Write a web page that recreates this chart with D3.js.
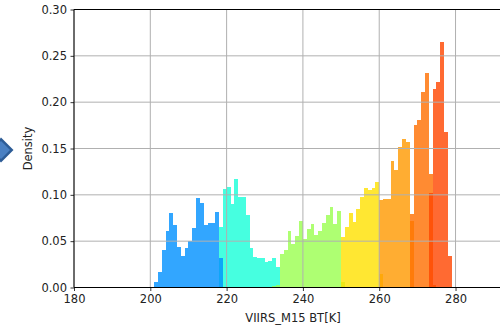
<!DOCTYPE html>
<html>
<head>
<meta charset="utf-8">
<script src="https://cdn.jsdelivr.net/npm/d3@7"></script>
<style>
  html, body { margin: 0; padding: 0; background: #fff; }
  svg { display: block; }
  text { font-family: "DejaVu Sans", sans-serif; }
</style>
</head>
<body>
<svg id="chart" width="500" height="326"></svg>
<script>
// ---- data ----
const groupNames = ["<219K", "219-234K", "234-250K", "250-260K", "260-268K", "268-273K", ">273K"];
const groupColors = ["#0090ff", "#18ffd9", "#9bff50", "#ffe200", "#ff9900", "#ff6f00", "#ff4600"];
const binStarts = [201, 218.1, 232, 250, 260, 268, 273];
const binWidths = [1.0, 0.99, 1.0, 1.0, 1.0, 1.0, 1.0];
const blueDensity = [0.0062, 0.0165, 0.040, 0.0615, 0.0806, 0.067, 0.044, 0.0345, 0.043, 0.0507, 0.0637, 0.0968, 0.0914, 0.067, 0.0698, 0.0698, 0.0813, 0.032];
const cyanDensity = [0.0655, 0.1065, 0.1086, 0.090, 0.117, 0.0975, 0.0975, 0.078, 0.0428, 0.0327, 0.0313, 0.0313, 0.0273, 0.0284, 0.032, 0.022];
const greenDensity = [0.002, 0.003, 0.0364, 0.041, 0.0608, 0.047, 0.0554, 0.0723, 0.0518, 0.0633, 0.069, 0.057, 0.061, 0.0698, 0.0777, 0.0867, 0.069, 0.0824, 0.006];
const yellowDensity = [0.055, 0.0655, 0.080, 0.071, 0.0845, 0.098, 0.1078, 0.105, 0.107, 0.1142, 0.015];
const amberDensity = [0.094, 0.095, 0.096, 0.136, 0.127, 0.152, 0.160, 0.157, 0.0716];
const orangeDensity = [0.0795, 0.175, 0.181, 0.211, 0.232, 0.122, 0.003];
const redDensity = [0.102, 0.214, 0.222, 0.265, 0.168, 0.0345];
const xTicks = [180, 200, 220, 240, 260, 280];
const yTicks = [0.00, 0.05, 0.10, 0.15, 0.20, 0.25, 0.30];
const xLabel = "VIIRS_M15 BT[K]";
const yLabel = "Density";

const allDensity = [blueDensity, cyanDensity, greenDensity, yellowDensity, amberDensity, orangeDensity, redDensity];
const drawOrder = [1, 0, 2, 3, 4, 5, 6];

// ---- layout ----
const svg = d3.select("#chart");
const mLeft = 74, mRight = 512, mTop = 9.5, mBottom = 287.5;
const x = d3.scaleLinear().domain([180, 294.8]).range([mLeft, mRight]);
const y = d3.scaleLinear().domain([0, 0.30]).range([mBottom, mTop]);

// decorative arrow at left edge
const arrow = svg.append("g");
arrow.append("path").attr("d", "M-11,150 L1,137.5 L13.5,150 L1,162.5 Z").attr("fill", "#2d5c96");
arrow.append("path").attr("d", "M-8,150 L1,141 L10,150 L1,159 Z").attr("fill", "#4a80c2");

// bars
drawOrder.forEach(gi => {
  const g = svg.append("g").attr("opacity", 0.8);
  const s = binStarts[gi], w = binWidths[gi];
  g.selectAll("rect").data(allDensity[gi]).enter().append("rect")
    .attr("shape-rendering", "crispEdges")
    .attr("x", (d, i) => x(s + i * w))
    .attr("width", (d, i) => x(s + (i + 1) * w) - x(s + i * w))
    .attr("y", d => y(d))
    .attr("height", d => y(0) - y(d))
    .attr("fill", groupColors[gi]);
});

// grid
const grid = svg.append("g").attr("stroke", "#b0b0b0").attr("stroke-width", 1);
xTicks.forEach(t => grid.append("line").attr("x1", x(t)).attr("x2", x(t)).attr("y1", mTop).attr("y2", mBottom));
yTicks.forEach(t => grid.append("line").attr("x1", mLeft).attr("x2", 500).attr("y1", y(t)).attr("y2", y(t)));

// axes
const yAxis = svg.append("g").attr("transform", `translate(${mLeft},0)`)
  .call(d3.axisLeft(y).tickValues(yTicks).tickFormat(d3.format(".2f")).tickSize(3.5).tickPadding(3.5));
const xAxis = svg.append("g").attr("transform", `translate(0,${mBottom})`)
  .call(d3.axisBottom(x).tickValues(xTicks).tickFormat(d3.format("d")).tickSize(3.5).tickPadding(3.5));
[xAxis, yAxis].forEach(a => {
  a.select(".domain").remove();
  a.selectAll("line").attr("stroke", "#000").attr("stroke-width", 0.8);
  a.selectAll("text").attr("font-family", "DejaVu Sans, sans-serif").attr("font-size", 11.5).attr("fill", "#222");
});
// spines
svg.append("line").attr("x1", mLeft).attr("x2", mLeft).attr("y1", mTop).attr("y2", mBottom).attr("stroke", "#000").attr("stroke-width", 1);
svg.append("line").attr("x1", mLeft).attr("x2", 500).attr("y1", mBottom).attr("y2", mBottom).attr("stroke", "#000").attr("stroke-width", 1);
svg.append("line").attr("x1", mLeft).attr("x2", 500).attr("y1", mTop).attr("y2", mTop).attr("stroke", "#000").attr("stroke-width", 1);

// labels
svg.append("text").attr("x", (mLeft + mRight) / 2).attr("y", 321.5).attr("text-anchor", "middle")
  .attr("font-size", 11.5).attr("fill", "#222").text(xLabel);
svg.append("text").attr("transform", `translate(32,${(mTop + mBottom) / 2}) rotate(-90)`).attr("text-anchor", "middle")
  .attr("font-size", 11.5).attr("fill", "#222").text(yLabel);
</script>
</body>
</html>
